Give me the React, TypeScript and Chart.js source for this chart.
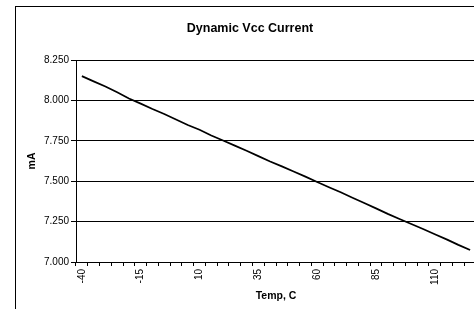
import React, { useEffect, useRef } from "react";
import { Chart, registerables } from "chart.js";

Chart.register(...registerables);

const chartTitle = "Dynamic Vcc Current";
const xTitle = "Temp, C";
const yTitle = "mA";

const temps: number[] = [
  -40, -35, -30, -25, -20, -15, -10, -5, 0, 5, 10, 15, 20, 25, 30, 35, 40,
  45, 50, 55, 60, 65, 70, 75, 80, 85, 90, 95, 100, 105, 110, 115, 120, 125,
];

const currentMA: number[] = [
  8.15, 8.118, 8.086, 8.05, 8.012, 7.98, 7.947, 7.916, 7.882, 7.848, 7.818,
  7.783, 7.752, 7.72, 7.688, 7.655, 7.622, 7.592, 7.56, 7.528, 7.495, 7.463,
  7.432, 7.398, 7.365, 7.332, 7.298, 7.266, 7.235, 7.204, 7.172, 7.14, 7.106,
  7.074,
];

const yMin = 7.0;
const yMax = 8.25;
const yStep = 0.25;
const labelEvery = 5;

const FONT = "'Liberation Sans', Arial, Helvetica, sans-serif";

const titlePlugin = {
  id: "excelTitle",
  afterDraw(chart: any) {
    const ctx = chart.ctx;
    ctx.save();
    ctx.font = `bold 12.5px ${FONT}`;
    ctx.fillStyle = "#000";
    ctx.textAlign = "center";
    ctx.textBaseline = "alphabetic";
    ctx.fillText(chartTitle, 234, 25);
    ctx.restore();
  },
};

export default function App() {
  const ref = useRef<HTMLCanvasElement | null>(null);

  useEffect(() => {
    if (!ref.current) return;
    Chart.defaults.font.family = FONT;
    const chart = new Chart(ref.current, {
      type: "line",
      data: {
        labels: temps.map(String),
        datasets: [
          {
            data: currentMA,
            borderColor: "#000",
            borderWidth: 1.75,
            pointRadius: 0,
            tension: 0,
            fill: false,
          },
        ],
      },
      options: {
        responsive: false,
        animation: false,
        layout: { padding: { top: 53, right: 10, left: 0, bottom: 0 } },
        plugins: {
          legend: { display: false },
          title: { display: false },
          tooltip: { enabled: false },
        },
        scales: {
          x: {
            type: "category",
            offset: true,
            grid: {
              offset: true,
              drawOnChartArea: false,
              drawTicks: true,
              tickLength: 4,
              color: "#000",
              lineWidth: 1,
            },
            border: { color: "#000", width: 1 },
            ticks: {
              autoSkip: false,
              minRotation: 90,
              maxRotation: 90,
              padding: 3,
              color: "#000",
              font: { size: 10 },
              callback: (_v: any, i: number) =>
                i % labelEvery === 0 ? String(temps[i]) : "",
            },
            title: {
              display: true,
              text: xTitle,
              color: "#000",
              font: { size: 10.5, weight: "bold" },
              padding: { top: 4, bottom: 4 },
            },
            afterFit: (s: any) => {
              s.height = 44;
            },
          },
          y: {
            min: yMin,
            max: yMax,
            grid: {
              color: "#000",
              lineWidth: 1,
              drawTicks: true,
              tickLength: 5,
            },
            border: { color: "#000", width: 1 },
            ticks: {
              stepSize: yStep,
              padding: 2,
              color: "#000",
              font: { size: 10 },
              callback: (v: any) => Number(v).toFixed(3),
            },
            title: {
              display: true,
              text: yTitle,
              color: "#000",
              font: { size: 10.5, weight: "bold" },
              padding: { top: 10, bottom: 0 },
            },
            afterFit: (s: any) => {
              s.width = 60;
            },
          },
        },
      },
      plugins: [titlePlugin],
    });
    return () => chart.destroy();
  }, []);

  return (
    <div
      style={{
        position: "fixed",
        left: 0,
        top: 0,
        width: 474,
        height: 309,
        overflow: "hidden",
        background: "#fff",
      }}
    >
      <div
        style={{
          position: "absolute",
          left: 15,
          top: 6,
          width: 500,
          height: 330,
          border: "1px solid #000",
          background: "#fff",
        }}
      >
        <canvas
          ref={ref}
          width={470}
          height={299}
          style={{ display: "block", width: 470, height: 299 }}
        />
      </div>
    </div>
  );
}
